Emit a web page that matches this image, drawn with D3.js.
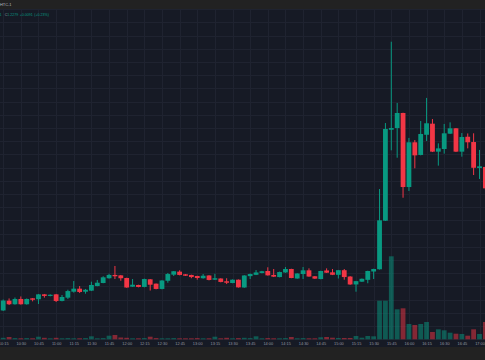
<!DOCTYPE html>
<html><head><meta charset="utf-8">
<script src="https://cdn.jsdelivr.net/npm/d3@7"></script>
<style>html,body{margin:0;padding:0;background:#161a25;overflow:hidden}</style>
</head><body>
<svg id="c" width="485" height="360"></svg>
<script>
const times = ["10:15","10:20","10:25","10:30","10:35","10:40","10:45","10:50","10:55",
"11:00","11:05","11:10","11:15","11:20","11:25","11:30","11:35","11:40","11:45","11:50","11:55",
"12:00","12:05","12:10","12:15","12:20","12:25","12:30","12:35","12:40","12:45","12:50","12:55",
"13:00","13:05","13:10","13:15","13:20","13:25","13:30","13:35","13:40","13:45","13:50","13:55",
"14:00","14:05","14:10","14:15","14:20","14:25","14:30","14:35","14:40","14:45","14:50","14:55",
"15:00","15:05","15:10","15:15","15:20","15:25","15:30","15:35","15:40","15:45","15:50","15:55",
"16:00","16:05","16:10","16:15","16:20","16:25","16:30","16:35","16:40","16:45","16:50","16:55",
"17:00","17:05"];
const open = [1.1217,1.1291,1.1264,1.1304,1.1264,1.1309,1.1302,1.1339,1.1327,1.1339,
 1.1289,1.1314,1.1359,1.1382,1.1359,1.1367,1.1402,1.1425,1.1461,1.1486,
 1.1483,1.1463,1.1397,1.1410,1.1395,1.1453,1.1420,1.1380,1.1442,1.1488,
 1.1511,1.1491,1.1486,1.1478,1.1461,1.1482,1.1450,1.1459,1.1438,1.1425,
 1.1450,1.1391,1.1477,1.1487,1.1501,1.1516,1.1486,1.1470,1.1505,1.1531,
 1.1459,1.1493,1.1521,1.1476,1.1455,1.1520,1.1506,1.1487,1.1522,1.1474,
 1.1414,1.1435,1.1449,1.1512,1.1529,1.1897,1.2586,1.2599,1.2713,1.2152,
 1.2491,1.2395,1.2548,1.2632,1.2420,1.2440,1.2556,1.2597,1.2420,1.2533,
 1.2493,1.2296,1.2304];
const high = [1.1300,1.1308,1.1315,1.1323,1.1308,1.1311,1.1342,1.1342,1.1339,1.1342,
 1.1334,1.1374,1.1440,1.1402,1.1380,1.1435,1.1448,1.1476,1.1495,1.1554,
 1.1486,1.1465,1.1455,1.1412,1.1458,1.1455,1.1421,1.1446,1.1501,1.1516,
 1.1521,1.1493,1.1488,1.1480,1.1493,1.1484,1.1495,1.1461,1.1461,1.1452,
 1.1452,1.1484,1.1497,1.1523,1.1517,1.1544,1.1531,1.1511,1.1546,1.1533,
 1.1499,1.1546,1.1536,1.1478,1.1518,1.1536,1.1531,1.1524,1.1531,1.1477,
 1.1441,1.1459,1.1518,1.1533,1.2137,1.2637,1.3253,1.2789,1.2715,1.2524,
 1.2508,1.2652,1.2827,1.2667,1.2483,1.2630,1.2642,1.2599,1.2561,1.2558,
 1.2559,1.2433,1.2306];
const low = [1.1213,1.1258,1.1261,1.1261,1.1261,1.1286,1.1266,1.1314,1.1324,1.1281,
 1.1286,1.1304,1.1352,1.1349,1.1344,1.1364,1.1400,1.1423,1.1458,1.1455,
 1.1442,1.1389,1.1395,1.1392,1.1392,1.1368,1.1377,1.1377,1.1427,1.1478,
 1.1483,1.1478,1.1461,1.1450,1.1458,1.1445,1.1448,1.1430,1.1417,1.1423,
 1.1390,1.1389,1.1455,1.1485,1.1498,1.1481,1.1470,1.1468,1.1502,1.1461,
 1.1457,1.1455,1.1472,1.1455,1.1453,1.1501,1.1485,1.1459,1.1450,1.1411,
 1.1359,1.1433,1.1423,1.1455,1.1527,1.1895,1.2430,1.2374,1.2071,1.2122,
 1.2294,1.2392,1.2501,1.2417,1.2314,1.2405,1.2554,1.2417,1.2382,1.2445,
 1.2243,1.2213,1.2130];
const close = [1.1292,1.1264,1.1304,1.1264,1.1304,1.1298,1.1339,1.1327,1.1336,1.1289,
 1.1319,1.1364,1.1382,1.1357,1.1374,1.1410,1.1427,1.1468,1.1486,1.1476,
 1.1461,1.1391,1.1412,1.1395,1.1455,1.1412,1.1380,1.1444,1.1493,1.1514,
 1.1486,1.1480,1.1470,1.1463,1.1480,1.1448,1.1461,1.1433,1.1427,1.1450,
 1.1392,1.1482,1.1493,1.1505,1.1514,1.1483,1.1473,1.1508,1.1531,1.1463,
 1.1497,1.1521,1.1474,1.1458,1.1516,1.1503,1.1487,1.1522,1.1470,1.1414,
 1.1439,1.1457,1.1516,1.1531,1.1900,1.2592,1.2599,1.2713,1.2152,1.2491,
 1.2392,1.2554,1.2635,1.2420,1.2445,1.2559,1.2597,1.2420,1.2531,1.2491,
 1.2298,1.2309,1.2142];
const volume = [15,23,12,10,12,10,26,15,10,15,
 10,12,10,10,12,30,10,12,36,43,
 18,15,10,10,12,26,12,10,10,12,
 10,10,10,12,10,10,26,10,15,10,
 12,15,12,30,10,12,10,10,12,23,
 10,12,10,10,20,23,16,13,13,13,
 33,16,33,30,386,386,830,300,310,153,
 143,153,173,73,100,90,66,56,53,36,
 100,53,173];
const tickLabels = ["10:15","10:30","10:45","11:00","11:15","11:30","11:45","12:00","12:15","12:30",
 "12:45","13:00","13:15","13:30","13:45","14:00","14:15","14:30","14:45","15:00","15:15","15:30",
 "15:45","16:00","16:15","16:30","16:45","17:00"];

const W = 485, H = 360;
const UP = "#089981", DOWN = "#f23645";
const UPV = "rgba(8,153,129,0.5)", DOWNV = "rgba(242,54,69,0.5)";
const svg = d3.select("#c");
const parse = d3.timeParse("%H:%M");
const data = times.map((t, i) => ({t: parse(t), o: open[i], h: high[i], l: low[i], c: close[i], v: volume[i]}));

const x = d3.scaleTime().domain([parse("10:15"), parse("17:00")]).range([3.2, 479.5]);
const y = d3.scaleLinear().domain([1.10, 1.35]).range([339.1, 9.1]);
const yv = d3.scaleLinear().domain([0, 1000]).range([339.3, 239.3]);
const bw = 4.8;
const FONT = "Liberation Sans, Arial, sans-serif";

svg.append("rect").attr("width", W).attr("height", H).attr("fill", "#161a25");
svg.append("rect").attr("width", W).attr("height", 9).attr("fill", "#222222");
svg.append("rect").attr("y", 347).attr("width", W).attr("height", 13).attr("fill", "#222222");

svg.append("defs").append("clipPath").attr("id", "pane")
  .append("rect").attr("x", 0).attr("y", 9).attr("width", W).attr("height", 331);

const pane = svg.append("g").attr("clip-path", "url(#pane)");

// grid
pane.append("g").selectAll("line").data(y.ticks(25)).join("line")
  .attr("x1", 0).attr("x2", W)
  .attr("y1", d => Math.round(y(d)) + 0.5).attr("y2", d => Math.round(y(d)) + 0.5)
  .attr("stroke", "#1f2330").attr("stroke-width", 1);
const tickDates = tickLabels.map(parse);
pane.append("g").selectAll("line").data(tickDates).join("line")
  .attr("x1", d => Math.round(x(d)) + 0.5).attr("x2", d => Math.round(x(d)) + 0.5)
  .attr("y1", 9).attr("y2", 340)
  .attr("stroke", "#1f2330").attr("stroke-width", 1);

// volume
pane.append("g").selectAll("rect").data(data).join("rect")
  .attr("x", d => x(d.t) - bw / 2)
  .attr("y", d => yv(d.v))
  .attr("width", bw)
  .attr("height", d => yv(0) - yv(d.v))
  .attr("fill", d => d.c >= d.o ? UPV : DOWNV);

// candles
const cg = pane.append("g").selectAll("g").data(data).join("g");
cg.append("line")
  .attr("x1", d => x(d.t)).attr("x2", d => x(d.t))
  .attr("y1", d => y(d.h)).attr("y2", d => y(d.l))
  .attr("stroke", d => d.c >= d.o ? UP : DOWN).attr("stroke-width", 1);
cg.append("rect")
  .attr("x", d => x(d.t) - bw / 2)
  .attr("y", d => y(Math.max(d.o, d.c)))
  .attr("width", bw)
  .attr("height", d => Math.max(1, Math.abs(y(d.o) - y(d.c))))
  .attr("fill", d => d.c >= d.o ? UP : DOWN);

// time axis
const ax = svg.append("g").attr("transform", "translate(0,340)")
  .call(d3.axisBottom(x).tickValues(tickDates).tickFormat(d3.timeFormat("%H:%M")).tickSize(0).tickPadding(2.4));
ax.select(".domain").remove();
ax.selectAll("text").attr("fill", "#9598a1").attr("font-size", "3.9px").attr("font-family", FONT);

// header texts
svg.append("text").attr("x", 0).attr("y", 5.8).text("HTC-1")
  .attr("fill", "#b8bbc4").attr("font-size", "3.9px").attr("font-family", FONT);
const lg = svg.append("text").attr("x", -0.6).attr("y", 15.6)
  .attr("font-size", "3.6px").attr("font-family", FONT);
lg.append("tspan").attr("fill", "#089981").text("1");
lg.append("tspan").attr("x", 4.7).attr("fill", "#9598a1").text("C");
lg.append("tspan").attr("fill", "#089981").text("1.2279");
lg.append("tspan").attr("dx", 1.4).attr("fill", "#089981").text("+0.0091");
lg.append("tspan").attr("dx", 1.4).attr("fill", "#089981").text("(+0.23%)");
</script></body></html>
